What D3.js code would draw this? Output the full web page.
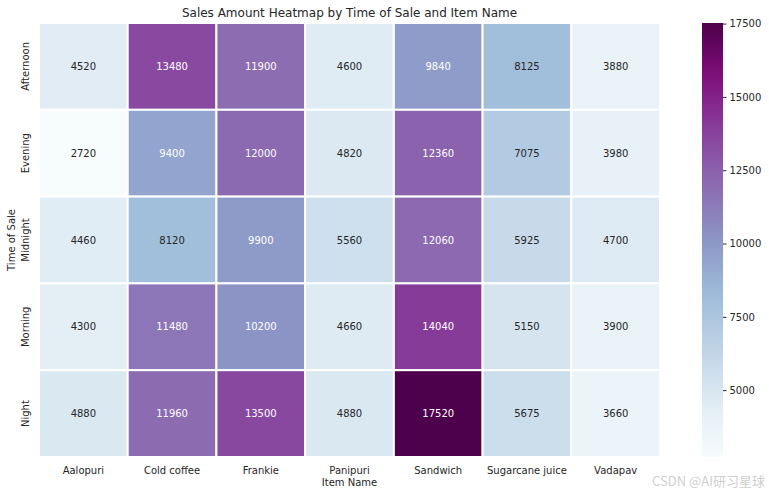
<!DOCTYPE html>
<html>
<head>
<meta charset="utf-8">
<script src="https://cdn.jsdelivr.net/npm/d3@7"></script>
<style>
  body { margin: 0; background: #fff; }
  text { font-family: "DejaVu Sans", sans-serif; }
</style>
</head>
<body>
<div id="target"></div>
<script>
const times = ["Afternoon", "Evening", "Midnight", "Morning", "Night"];
const items = ["Aalopuri", "Cold coffee", "Frankie", "Panipuri", "Sandwich", "Sugarcane juice", "Vadapav"];
const afternoon = [4520, 13480, 11900, 4600, 9840, 8125, 3880];
const evening = [2720, 9400, 12000, 4820, 12360, 7075, 3980];
const midnight = [4460, 8120, 9900, 5560, 12060, 5925, 4700];
const morning = [4300, 11480, 10200, 4660, 14040, 5150, 3900];
const night = [4880, 11960, 13500, 4880, 17520, 5675, 3660];
const cbarTicks = [5000, 7500, 10000, 12500, 15000, 17500];

const rows = [afternoon, evening, midnight, morning, night];
let cells = [];
rows.forEach((r, i) => r.forEach((v, j) => cells.push({time: times[i], item: items[j], value: v})));

const W = 769, H = 496;
const margin = {top: 23, right: 109, bottom: 39, left: 39};
const width = W - margin.left - margin.right,
      height = H - margin.top - margin.bottom;

let svg = d3.select("#target").append("svg")
  .attr("width", W).attr("height", H);

// BuPu, linear segments like matplotlib
const bupu = d3.schemeBuPu[9];
const vmin = d3.min(cells, d => d.value), vmax = d3.max(cells, d => d.value);
let color = d3.scaleLinear()
  .domain(bupu.map((c, i) => vmin + (vmax - vmin) * i / (bupu.length - 1)))
  .range(bupu)
  .interpolate(d3.interpolateRgb);

let x = d3.scaleBand().domain(items).range([0, width]);
let y = d3.scaleBand().domain(times).range([0, height]);

let g = svg.append("g").attr("transform", `translate(${margin.left},${margin.top})`);

g.selectAll("rect.cell").data(cells).enter().append("rect")
  .attr("class", "cell")
  .attr("x", d => x(d.item))
  .attr("y", d => y(d.time))
  .attr("width", x.bandwidth())
  .attr("height", y.bandwidth())
  .attr("fill", d => color(d.value))
  .attr("stroke", "#fff")
  .attr("stroke-width", 2);

function lum(c) {
  let rgb = d3.rgb(c);
  let f = v => { v /= 255; return v <= 0.03928 ? v / 12.92 : Math.pow((v + 0.055) / 1.055, 2.4); };
  return 0.2126 * f(rgb.r) + 0.7152 * f(rgb.g) + 0.0722 * f(rgb.b);
}

g.selectAll("text.annot").data(cells).enter().append("text")
  .attr("class", "annot")
  .attr("x", d => x(d.item) + x.bandwidth() / 2)
  .attr("y", d => y(d.time) + y.bandwidth() / 2)
  .attr("text-anchor", "middle")
  .attr("dominant-baseline", "central")
  .attr("font-size", "10px")
  .attr("fill", d => lum(color(d.value)) < 0.408 ? "#fff" : "#262626")
  .text(d => d.value);

// axes without tick lines
let xAxis = g.append("g")
  .attr("transform", `translate(0,${height})`)
  .call(d3.axisBottom(x).tickSize(0).tickPadding(10));
let yAxis = g.append("g")
  .call(d3.axisLeft(y).tickSize(0).tickPadding(0));
[xAxis, yAxis].forEach(a => {
  a.select(".domain").remove();
  a.selectAll("text").attr("font-size", "10px").attr("fill", "#262626")
    .style("font-family", "DejaVu Sans, sans-serif");
});
yAxis.selectAll("text")
  .attr("transform", d => `translate(-10,${y(d) + y.bandwidth() / 2}) rotate(-90)`)
  .attr("x", 0).attr("y", 0).attr("dy", 0)
  .attr("text-anchor", "middle")
  .attr("dominant-baseline", "auto");
yAxis.selectAll(".tick").attr("transform", null);

svg.append("text")
  .attr("x", margin.left + width / 2).attr("y", 17)
  .attr("text-anchor", "middle").attr("font-size", "12px").attr("fill", "#262626")
  .text("Sales Amount Heatmap by Time of Sale and Item Name");

svg.append("text")
  .attr("x", margin.left + width / 2).attr("y", 486)
  .attr("text-anchor", "middle").attr("font-size", "10px").attr("fill", "#262626")
  .text("Item Name");

svg.append("text")
  .attr("transform", `translate(15,${margin.top + height / 2}) rotate(-90)`)
  .attr("text-anchor", "middle").attr("font-size", "10px").attr("fill", "#262626")
  .text("Time of Sale");

// colorbar
const cbX = 702, cbW = 21;
let cy = d3.scaleLinear().domain([vmin, vmax]).range([margin.top + height, margin.top]);
let defs = svg.append("defs");
let grad = defs.append("linearGradient").attr("id", "cbar")
  .attr("x1", 0).attr("y1", 1).attr("x2", 0).attr("y2", 0);
d3.range(0, 1.0001, 0.05).forEach(t => {
  grad.append("stop").attr("offset", t).attr("stop-color", color(vmin + t * (vmax - vmin)));
});
svg.append("rect")
  .attr("x", cbX).attr("y", margin.top)
  .attr("width", cbW).attr("height", height)
  .attr("fill", "url(#cbar)");
let cAxis = svg.append("g")
  .attr("transform", `translate(${cbX + cbW},0)`)
  .call(d3.axisRight(cy).tickValues(cbarTicks).tickFormat(d3.format("d")).tickSize(3.5).tickPadding(3));
cAxis.select(".domain").remove();
cAxis.selectAll("line").attr("stroke", "#262626");
cAxis.selectAll("text").attr("font-size", "10px").attr("fill", "#262626")
  .style("font-family", "DejaVu Sans, sans-serif");

// watermark
svg.append("text")
  .attr("x", 765).attr("y", 486)
  .attr("text-anchor", "end").attr("font-size", "13px").attr("fill", "#cfcfcf")
  .style("font-family", "Noto Sans CJK SC, sans-serif")
  .text("CSDN @AI研习星球");
</script>
</body>
</html>
